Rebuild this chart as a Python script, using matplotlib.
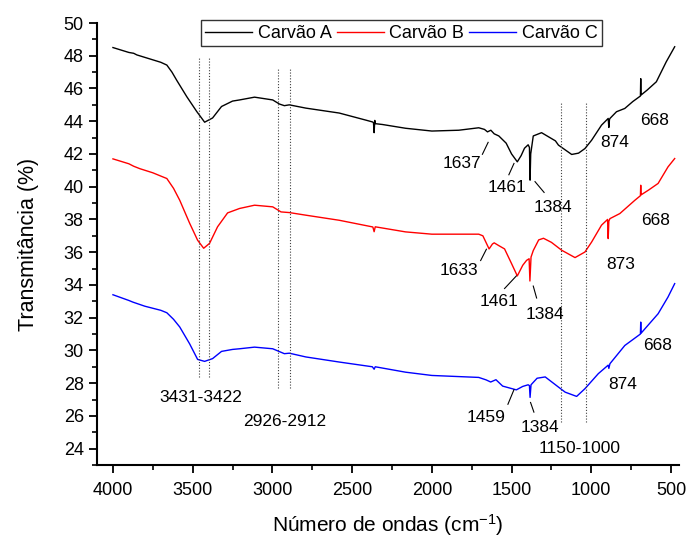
import matplotlib
matplotlib.use("Agg")
import matplotlib.pyplot as plt

plt.rcParams['font.family'] = ['Liberation Sans', 'DejaVu Sans']
plt.rcParams['mathtext.fontset'] = 'custom'
plt.rcParams['mathtext.rm'] = 'Liberation Sans'
plt.rcParams['mathtext.it'] = 'Liberation Sans'

# ---------------- data ----------------
wn_a = [4000, 3950, 3900, 3870, 3850, 3800, 3750, 3700, 3662, 3630, 3600, 3537, 3475, 3425,
        3375, 3319, 3250, 3206, 3112, 2998, 2956, 2925, 2894, 2790, 2581, 2415, 2370, 2366,
        2362, 2358, 2354, 2310, 2165, 2000, 1831, 1706, 1670, 1651, 1630, 1609, 1580, 1534,
        1500, 1464, 1440, 1419, 1396, 1388, 1384, 1380, 1364, 1312, 1225, 1206, 1123, 1080,
        1040, 998, 936, 894, 890, 886, 883, 842, 790, 740, 692, 690, 688, 650, 592, 530, 477]
t_a = [48.50, 48.35, 48.20, 48.15, 48.05, 47.90, 47.75, 47.60, 47.43, 47.00, 46.50, 45.50, 44.60,
       43.94, 44.20, 44.90, 45.23, 45.30, 45.47, 45.30, 45.05, 44.95, 45.00, 44.80, 44.50, 44.07,
       43.95, 43.90, 43.30, 44.05, 43.85, 43.80, 43.57, 43.40, 43.45, 43.60, 43.50, 43.35, 43.45,
       43.23, 43.10, 42.66, 42.00, 41.52, 41.90, 42.35, 42.56, 42.40, 40.40, 42.00, 43.10, 43.30,
       42.80, 42.54, 41.97, 42.05, 42.33, 42.84, 43.76, 44.17, 43.62, 44.10, 44.17, 44.58, 44.78,
       45.20, 45.54, 46.60, 45.60, 45.90, 46.41, 47.63, 48.55]

wn_b = [4000, 3950, 3900, 3870, 3831, 3750, 3700, 3662, 3620, 3581, 3519, 3469, 3431, 3394,
        3344, 3281, 3206, 3112, 2998, 2946, 2894, 2790, 2581, 2370, 2362, 2355, 2165, 2000,
        1706, 1680, 1641, 1620, 1609, 1580, 1544, 1500, 1464, 1430, 1406, 1390, 1385, 1378,
        1364, 1330, 1300, 1250, 1186, 1102, 1040, 998, 936, 898, 894, 890, 883, 821, 727, 692,
        690, 688, 640, 581, 519, 477]
t_b = [41.70, 41.55, 41.40, 41.25, 41.10, 40.85, 40.65, 40.50, 39.90, 39.17, 37.77, 36.73, 36.24,
       36.54, 37.55, 38.40, 38.67, 38.87, 38.77, 38.46, 38.42, 38.26, 37.95, 37.54, 37.25, 37.55,
       37.24, 37.10, 37.10, 37.00, 36.20, 36.50, 36.57, 36.40, 36.20, 35.30, 34.55, 35.20, 35.50,
       35.60, 34.24, 35.70, 36.10, 36.75, 36.85, 36.60, 36.12, 35.67, 36.01, 36.62, 37.65, 38.00,
       36.83, 37.90, 38.05, 38.36, 39.17, 39.45, 40.09, 39.50, 39.80, 40.20, 41.21, 41.72]

wn_c = [4000, 3900, 3875, 3800, 3700, 3662, 3620, 3581, 3519, 3469, 3425, 3375, 3319, 3250,
        3206, 3112, 2998, 2925, 2894, 2790, 2581, 2373, 2362, 2355, 2165, 2000, 1706, 1660,
        1631, 1598, 1556, 1470, 1430, 1396, 1388, 1384, 1378, 1340, 1289, 1206, 1164, 1092,
        1040, 956, 894, 890, 883, 790, 692, 690, 688, 581, 519, 477]
t_c = [33.40, 33.05, 32.95, 32.70, 32.45, 32.30, 31.90, 31.43, 30.40, 29.45, 29.33, 29.50, 29.94,
       30.06, 30.10, 30.20, 30.10, 29.80, 29.83, 29.60, 29.29, 29.00, 28.85, 29.00, 28.67, 28.47,
       28.35, 28.20, 28.07, 28.21, 27.82, 27.59, 27.80, 27.90, 27.85, 27.13, 27.90, 28.30, 28.38,
       27.76, 27.45, 27.19, 27.66, 28.58, 29.10, 28.90, 29.19, 30.30, 31.00, 31.73, 31.05, 32.24,
       33.26, 34.08]

series_names = ["Carvão A", "Carvão B", "Carvão C"]
series_colors = ["black", "red", "blue"]

# dotted reference lines: (wavenumber, y_bottom, y_top)
vlines = [(3460, 28.35, 47.9), (3395, 28.35, 47.9),
          (2962, 27.7, 47.25), (2887, 27.7, 47.25),
          (1187, 25.6, 45.2), (1031, 25.6, 45.2)]

# labels: (text, x, y)
labels = [("3431-3422", 3450, 27.1), ("2926-2912", 2925, 25.65), ("1150-1000", 1075, 24.0),
          ("1637", 1812, 41.42), ("1461", 1531, 39.97), ("1384", 1241, 38.71),
          ("874", 852, 42.71), ("668", 603, 44.06),
          ("1633", 1830, 34.86), ("1461", 1580, 33.0), ("1384", 1290, 32.2),
          ("873", 813, 35.22), ("668", 597, 37.92),
          ("1459", 1662, 25.88), ("1384", 1325, 25.32), ("874", 803, 27.9), ("668", 585, 30.3)]

# leader lines: (x0, y0, x1, y1)
leaders = [(1683, 41.98, 1647, 42.71), (1517, 40.73, 1485, 41.42), (1353, 40.31, 1296, 39.65),
           (1694, 35.49, 1658, 36.18), (1544, 33.78, 1470, 34.55), (1364, 33.93, 1343, 33.2),
           (1523, 26.71, 1485, 27.6), (1381, 26.82, 1360, 26.23)]

# ---------------- plot ----------------
fig = plt.figure(figsize=(6.86, 5.44), dpi=100)
ax = fig.add_axes([97/686, 79/544, 582/686, 442/544])

for wn, t, name, col in zip([wn_a, wn_b, wn_c], [t_a, t_b, t_c], series_names, series_colors):
    ax.plot(wn, t, color=col, lw=1.0, label=name)

for x, y0, y1 in vlines:
    ax.plot([x, x], [y0, y1], color='0.25', lw=0.8, linestyle=(0, (1, 1.6)))

for x0, y0, x1, y1 in leaders:
    ax.plot([x0, x1], [y0, y1], color='black', lw=0.8)

for txt, x, y in labels:
    ax.text(x, y, txt, ha='center', va='center', fontsize=12.5)

ax.set_xlim(4100, 450)
ax.set_ylim(23, 50)
ax.set_xticks(range(4000, 499, -500))
ax.set_xticks(range(3750, 499, -500), minor=True)
ax.set_yticks(range(24, 51, 2))
ax.set_yticks(range(23, 51, 2), minor=True)

for s in ['top', 'right']:
    ax.spines[s].set_visible(False)
for s in ['left', 'bottom']:
    ax.spines[s].set_linewidth(1.5)

ax.tick_params(which='major', direction='out', length=6, width=1.3, labelsize=13)
ax.tick_params(axis='x', which='major', pad=6)
ax.tick_params(which='minor', direction='out', length=3.5, width=1.2)

ax.set_xlabel(r'Número de ondas (cm$^{\mathregular{-1}}$)', fontsize=15, labelpad=10)
ax.set_ylabel('Transmitância (%)', fontsize=15.5, labelpad=18)

leg = ax.legend(loc='upper center', bbox_to_anchor=(0.523, 1.006), ncol=3, frameon=True,
                fancybox=False, edgecolor='black', fontsize=13, handlelength=2.6,
                handletextpad=0.3, columnspacing=0.3, borderaxespad=0, borderpad=0.25)
leg.get_frame().set_linewidth(1.0)

fig.savefig('out.png', dpi=100)
